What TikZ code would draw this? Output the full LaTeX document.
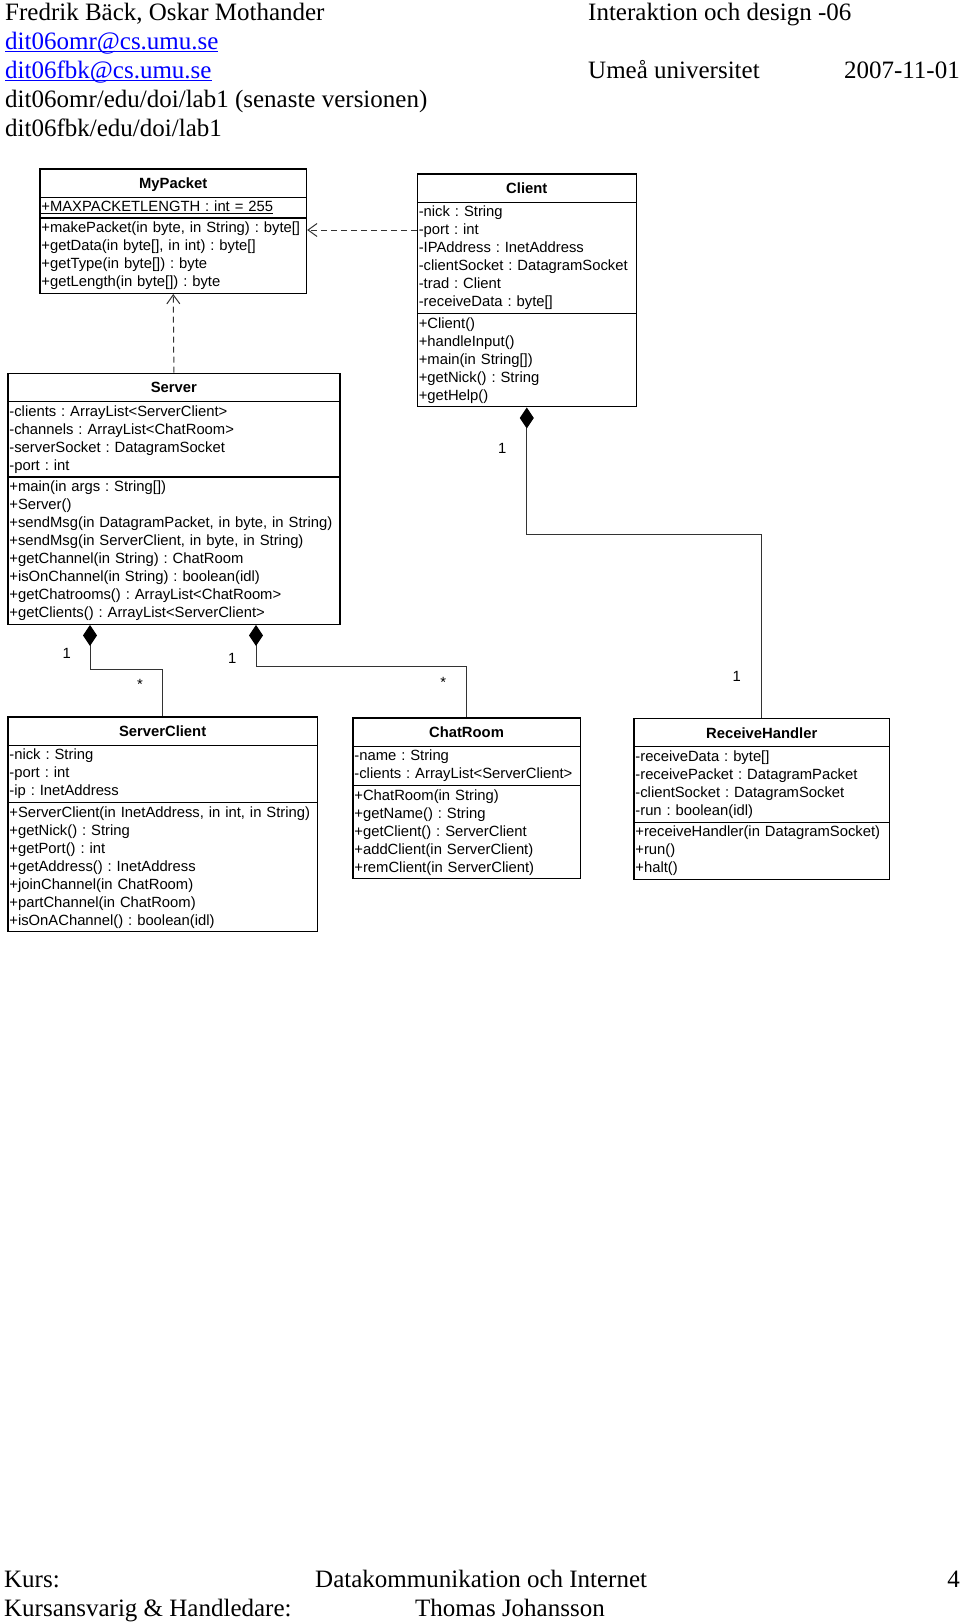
\documentclass[tikz,border=0pt]{standalone}
\usepackage{fontspec}
\setmainfont{Liberation Serif}
\setsansfont{Liberation Sans}
\usetikzlibrary{shapes.multipart,arrows.meta}

\newcommand{\umlfont}{\sffamily\fontsize{14.8}{18}\selectfont\frenchspacing}
\newcommand{\pagefont}{\rmfamily\fontsize{25}{29}\selectfont}
\newcommand{\titlestrut}{\rule[-5pt]{0pt}{20.6pt}}
\newcommand{\linkline}[1]{\leavevmode\setbox0\hbox{#1}\rlap{\rule[-3.3pt]{\wd0}{1.3pt}}\box0}
\newcommand{\staticline}[1]{\leavevmode\setbox0\hbox{#1}\rlap{\rule[-2.6pt]{\wd0}{1pt}}\box0}

\tikzset{
  umlclass/.style={rectangle split, rectangle split parts=3, draw, line width=1.2pt,
    anchor=north west, inner xsep=1.5pt, inner ysep=3.2pt, font=\umlfont, align=left},
  mult/.style={font=\umlfont, anchor=base, inner sep=0pt},
  depend/.style={draw=black!80, line width=1pt, dash pattern=on 6pt off 4pt,
    -{Straight Barb[length=9pt,width=13pt]}},
  compose/.style={draw=black!80, line width=1pt, {Diamond[length=21pt,width=14pt,black]}-}
}

\begin{document}
\begin{tikzpicture}[x=1pt,y=-1pt]

      \fill[white] (0,0) rectangle (960,1623);
      \useasboundingbox (0,0) rectangle (960,1623);

      \begin{scope}[every node/.style={anchor=base west, inner sep=0pt, font=\pagefont}]
        \node (authors) at (5,20) {Fredrik Bäck, Oskar Mothander};
        \node[text=blue] (mail1) at (5,49) {\linkline{dit06omr@cs.umu.se}};
        \node[text=blue] (mail2) at (5,78) {\linkline{dit06fbk@cs.umu.se}};
        \node (path1) at (5,107) {dit06omr/edu/doi/lab1 (senaste versionen)};
        \node (path2) at (5,136) {dit06fbk/edu/doi/lab1};
        \node (course) at (588,20) {Interaktion och design -06};
        \node (uni) at (588,78) {Umeå universitet};
        \node[anchor=base east] (date) at (960,78) {2007-11-01};
        \node (kurs) at (4,1587) {Kurs:};
        \node (ansvar) at (4,1616) {Kursansvarig \& Handledare:};
        \node (kursname) at (315,1587) {Datakommunikation och Internet};
        \node (teacher) at (415,1616) {Thomas Johansson};
        \node[anchor=base east] (pagenr) at (960,1587) {4};
      \end{scope}

      \begin{scope}[every node/.style={umlclass}]
        \node[text width=263.7pt] (mypacket) at (39.3,168.3)
          {\centering\textbf{MyPacket}\titlestrut\par
           \nodepart{two}\staticline{+MAXPACKETLENGTH : int = 255}
           \nodepart{three}+makePacket(in byte, in String) : byte[]\\
           +getData(in byte[], in int) : byte[]\\
           +getType(in byte[]) : byte\\
           +getLength(in byte[]) : byte};
        \node[text width=216pt] (client) at (416.7,173.3)
          {\centering\textbf{Client}\titlestrut\par
           \nodepart{two}-nick : String\\
           -port : int\\
           -IPAddress : InetAddress\\
           -clientSocket : DatagramSocket\\
           -trad : Client\\
           -receiveData : byte[]
           \nodepart{three}+Client()\\
           +handleInput()\\
           +main(in String[])\\
           +getNick() : String\\
           +getHelp()};
        \node[text width=329pt] (server) at (7.3,372.7)
          {\centering\textbf{Server}\titlestrut\par
           \nodepart{two}-clients : ArrayList<ServerClient>\\
           -channels : ArrayList<ChatRoom>\\
           -serverSocket : DatagramSocket\\
           -port : int
           \nodepart{three}+main(in args : String[])\\
           +Server()\\
           +sendMsg(in DatagramPacket, in byte, in String)\\
           +sendMsg(in ServerClient, in byte, in String)\\
           +getChannel(in String) : ChatRoom\\
           +isOnChannel(in String) : boolean(idl)\\
           +getChatrooms() : ArrayList<ChatRoom>\\
           +getClients() : ArrayList<ServerClient>};
        \node[text width=306.4pt] (serverclient) at (7.3,716.3)
          {\centering\textbf{ServerClient}\titlestrut\par
           \nodepart{two}-nick : String\\
           -port : int\\
           -ip : InetAddress
           \nodepart{three}+ServerClient(in InetAddress, in int, in String)\\
           +getNick() : String\\
           +getPort() : int\\
           +getAddress() : InetAddress\\
           +joinChannel(in ChatRoom)\\
           +partChannel(in ChatRoom)\\
           +isOnAChannel() : boolean(idl)};
        \node[text width=224.2pt] (chatroom) at (352.3,717.3)
          {\centering\textbf{ChatRoom}\titlestrut\par
           \nodepart{two}-name : String\\
           -clients : ArrayList<ServerClient>
           \nodepart{three}+ChatRoom(in String)\\
           +getName() : String\\
           +getClient() : ServerClient\\
           +addClient(in ServerClient)\\
           +remClient(in ServerClient)};
        \node[text width=252.7pt] (receiver) at (633.3,718)
          {\centering\textbf{ReceiveHandler}\titlestrut\par
           \nodepart{two}-receiveData : byte[]\\
           -receivePacket : DatagramPacket\\
           -clientSocket : DatagramSocket\\
           -run : boolean(idl)
           \nodepart{three}+receiveHandler(in DatagramSocket)\\
           +run()\\
           +halt()};
      \end{scope}

      \coordinate (uses) at ([yshift=-56.7pt]client.north west);
      \coordinate (ownsclients) at ([xshift=82.7pt]server.south west);
      \coordinate (ownsrooms) at ([xshift=248.7pt]server.south west);

      \begin{scope}[every edge/.style={depend}]
        \path (uses) edge (uses -| mypacket.east);
        \path (server.north) edge (mypacket.south);
      \end{scope}

      \draw[compose] (client.south) -- ++(0,127) -| (receiver.north);
      \draw[compose] (ownsclients) -- ++(0,44.7) -| (serverclient.north);
      \draw[compose] (ownsrooms) -- ++(0,41.3) -| (chatroom.north);

      \begin{scope}[every node/.style={mult}]
        \node (clientone) at (502.3,453.6) {1};
        \node (receiverone) at (736.7,681.3) {1};
        \node (serverone) at (66.7,658.6) {1};
        \node (clientsmany) at (140,689.5) {*};
        \node (roomsone) at (232.3,663) {1};
        \node (roomsmany) at (443.3,687.8) {*};
      \end{scope}

    \end{tikzpicture}
\end{document}
